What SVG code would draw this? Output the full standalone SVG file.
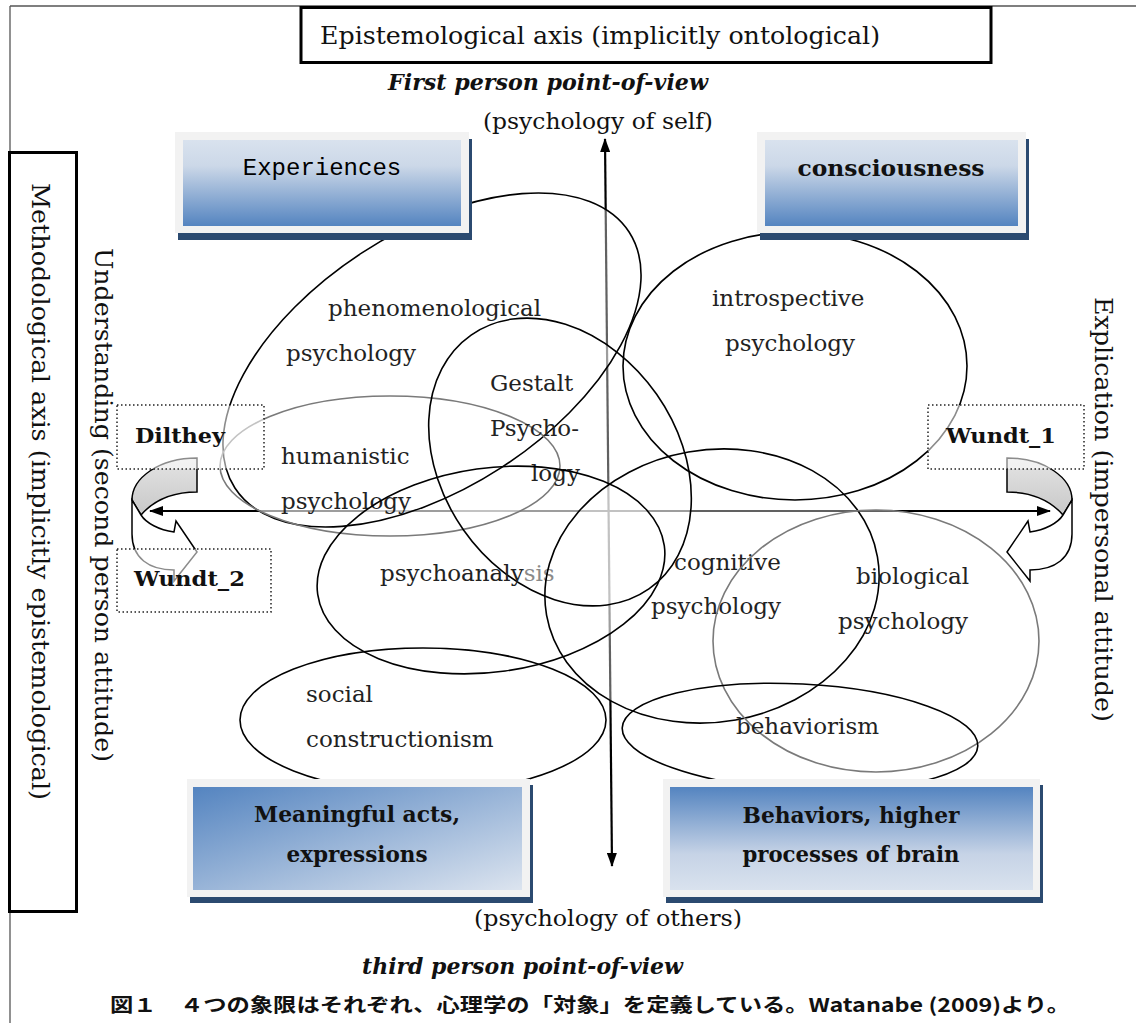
<svg xmlns="http://www.w3.org/2000/svg" width="1136" height="1023" viewBox="0 0 1136 1023">
<defs>
<style>
.serif{font-family:"DejaVu Serif","Liberation Serif",serif;fill:#111}
.lbl{font-family:"DejaVu Serif","Liberation Serif",serif;font-size:23px;fill:#222}
.bold{font-weight:bold}
.ell{fill:none;stroke:#000;stroke-width:1.6}
.ellg{fill:none;stroke:#7a7a7a;stroke-width:1.6}
.veil{fill:#fff;fill-opacity:0.38;stroke:none}
.dot{fill:#fff;fill-opacity:0.55;stroke:#222;stroke-width:1.5;stroke-dasharray:1.5 2.5}
.shadow{fill:#2b4a70}
.frame{fill:#f2f2f2}
.axis{stroke:#000;stroke-width:2.2;fill:none}
.arrowshape{stroke:#000;stroke-width:1.5;stroke-linejoin:miter}
</style>
<linearGradient id="gV" x1="0" y1="0" x2="0" y2="1">
<stop offset="0" stop-color="#d9e2ee"/><stop offset="0.3" stop-color="#ccd8e8"/><stop offset="1" stop-color="#5484c0"/>
</linearGradient>
<linearGradient id="gVr" x1="0" y1="0" x2="0" y2="1">
<stop offset="0" stop-color="#5484c0"/><stop offset="0.65" stop-color="#c6d3e6"/><stop offset="1" stop-color="#d9e2ee"/>
</linearGradient>
<linearGradient id="gD" x1="0" y1="0" x2="1" y2="1">
<stop offset="0" stop-color="#5484c0"/><stop offset="1" stop-color="#dce4ef"/>
</linearGradient>
<linearGradient id="gBand" x1="0" y1="0" x2="0" y2="1">
<stop offset="0" stop-color="#e4e4e4"/><stop offset="1" stop-color="#c8c8c8"/>
</linearGradient>
<marker id="ah" viewBox="0 0 14 10" refX="13" refY="5" markerWidth="14" markerHeight="10" markerUnits="userSpaceOnUse" orient="auto-start-reverse">
<path d="M0,0 L14,5 L0,10 z" fill="#000"/>
</marker>
<ellipse id="e-phen" cx="432" cy="360" rx="235" ry="128" transform="rotate(-33 432 360)"/>
<ellipse id="e-intro" cx="795" cy="366" rx="172" ry="134"/>
<ellipse id="e-social" cx="423" cy="720" rx="183" ry="72"/>
<ellipse id="e-hum" cx="390" cy="466" rx="170" ry="70"/>
<ellipse id="e-gest" cx="560" cy="462" rx="155" ry="118" transform="rotate(55 560 462)"/>
<ellipse id="e-psya" cx="491" cy="570" rx="175" ry="102" transform="rotate(-8 491 570)"/>
<ellipse id="e-cog" cx="712" cy="586" rx="168" ry="136" transform="rotate(-10 712 586)"/>
<ellipse id="e-bio" cx="876" cy="641" rx="163" ry="131"/>
<ellipse id="e-beh" cx="800" cy="737" rx="178" ry="53" transform="rotate(3 800 737)"/>
<g id="curvArrow">
<path class="arrowshape" fill="url(#gBand)" d="M1007,458 C1045,458 1072,478 1072,500 L1063,515 C1050,500 1030,492 1007,492 Z"/>
<path class="arrowshape" fill="#fff" d="M1007,552 L1028,521 L1030,532 C1045,530 1058,523 1063,515 L1072,500 L1072,534 C1072,558 1055,570 1030,570 L1030,581 Z"/>
</g>
</defs>

<rect width="1136" height="1023" fill="#fff"/>

<g id="page-frame" fill="none" stroke="#555" stroke-width="1.3">
<line x1="10" y1="6" x2="1136" y2="6"/>
<line x1="10" y1="6" x2="10" y2="1023"/>
</g>

<g id="connectors">
<line class="axis" x1="150" y1="511" x2="1050" y2="511" marker-start="url(#ah)" marker-end="url(#ah)"/>
<line class="axis" x1="605" y1="139" x2="612" y2="866" marker-start="url(#ah)" marker-end="url(#ah)"/>
</g>

<g id="ellipse-veils" class="veil">
<use href="#e-phen"/><use href="#e-intro"/><use href="#e-social"/><use href="#e-hum"/><use href="#e-gest"/>
<use href="#e-psya"/><use href="#e-cog"/><use href="#e-bio"/><use href="#e-beh"/>
</g>

<g id="node-phenomenological">
<use href="#e-phen" class="ell"/>
<text class="lbl" x="328" y="316">phenomenological</text>
<text class="lbl" x="286" y="361">psychology</text>
</g>
<g id="node-introspective">
<use href="#e-intro" class="ell"/>
<text class="lbl" x="712" y="306">introspective</text>
<text class="lbl" x="725" y="351">psychology</text>
</g>
<g id="node-social">
<use href="#e-social" class="ell"/>
<text class="lbl" x="306" y="702">social</text>
<text class="lbl" x="306" y="747">constructionism</text>
</g>
<g id="node-humanistic">
<use href="#e-hum" class="ellg"/>
<text class="lbl" x="281" y="464">humanistic</text>
<text class="lbl" x="281" y="509">psychology</text>
</g>
<g id="node-gestalt">
<use href="#e-gest" class="ell"/>
<text class="lbl" x="490" y="391">Gestalt</text>
<text class="lbl" x="490" y="436">Psycho-</text>
<text class="lbl" x="531" y="481">logy</text>
</g>
<g id="node-psychoanalysis">
<use href="#e-psya" class="ell"/>
<text class="lbl" x="380" y="581">psychoanaly<tspan fill="#8a8a8a">sis</tspan></text>
</g>
<g id="node-cognitive">
<use href="#e-cog" class="ell"/>
<text class="lbl" x="674" y="570">cognitive</text>
<text class="lbl" x="651" y="614">psychology</text>
</g>
<g id="node-biological">
<use href="#e-bio" class="ellg"/>
<text class="lbl" x="856" y="584">biological</text>
<text class="lbl" x="838" y="629">psychology</text>
</g>
<g id="node-behaviorism">
<use href="#e-beh" class="ell"/>
<text class="lbl" x="736" y="734">behaviorism</text>
</g>

<g id="node-experiences">
<rect class="shadow" x="178" y="139" width="294" height="101"/>
<rect class="frame" x="175" y="132" width="294" height="101"/>
<rect x="183" y="140" width="278" height="86" fill="url(#gV)"/>
<text x="322" y="175" text-anchor="middle" font-family="'Liberation Mono',monospace" font-size="24" fill="#000">Experiences</text>
</g>
<g id="node-consciousness">
<rect class="shadow" x="760" y="139" width="269" height="101"/>
<rect class="frame" x="757" y="132" width="269" height="101"/>
<rect x="765" y="140" width="253" height="86" fill="url(#gV)"/>
<text class="serif bold" x="891" y="176" text-anchor="middle" font-size="22" textLength="187" lengthAdjust="spacingAndGlyphs">consciousness</text>
</g>
<g id="node-meaningful">
<rect class="shadow" x="190" y="785" width="343" height="118"/>
<rect class="frame" x="187" y="779" width="343" height="118"/>
<rect x="193" y="787" width="329" height="103" fill="url(#gD)"/>
<text class="serif bold" x="357" y="822" text-anchor="middle" font-size="22" textLength="206" lengthAdjust="spacingAndGlyphs">Meaningful acts,</text>
<text class="serif bold" x="357" y="862" text-anchor="middle" font-size="22" textLength="141" lengthAdjust="spacingAndGlyphs">expressions</text>
</g>
<g id="node-behaviors">
<rect class="shadow" x="666" y="785" width="377" height="118"/>
<rect class="frame" x="663" y="779" width="377" height="118"/>
<rect x="670" y="787" width="363" height="103" fill="url(#gVr)"/>
<text class="serif bold" x="851" y="823" text-anchor="middle" font-size="22" textLength="217" lengthAdjust="spacingAndGlyphs">Behaviors, higher</text>
<text class="serif bold" x="851" y="862" text-anchor="middle" font-size="22" textLength="217" lengthAdjust="spacingAndGlyphs">processes of brain</text>
</g>

<g id="curved-arrow-right"><use href="#curvArrow"/></g>
<g id="curved-arrow-left"><use href="#curvArrow" transform="translate(1204,0) scale(-1,1)"/></g>

<g id="node-dilthey">
<rect class="dot" x="117" y="405" width="147" height="64"/>
<text class="serif bold" x="135" y="443" font-size="21" textLength="90" lengthAdjust="spacingAndGlyphs">Dilthey</text>
</g>
<g id="node-wundt2">
<rect class="dot" x="117" y="549" width="154" height="63"/>
<text class="serif bold" x="134" y="586" font-size="21" textLength="111" lengthAdjust="spacingAndGlyphs">Wundt_2</text>
</g>
<g id="node-wundt1">
<rect class="dot" x="928" y="405" width="156" height="64"/>
<text class="serif bold" x="946" y="443" font-size="21" textLength="110" lengthAdjust="spacingAndGlyphs">Wundt_1</text>
</g>

<g id="node-epistemological-axis">
<rect x="301" y="7.5" width="690" height="55" fill="#fff" stroke="#000" stroke-width="3"/>
<text class="serif" x="320" y="44" font-size="24" textLength="560" lengthAdjust="spacingAndGlyphs">Epistemological axis (implicitly ontological)</text>
</g>
<g id="node-methodological-axis">
<rect x="9.5" y="152.5" width="67" height="759" fill="#fff" stroke="#000" stroke-width="3"/>
<text class="serif" transform="translate(32,183) rotate(90)" font-size="24" textLength="617" lengthAdjust="spacingAndGlyphs">Methodological axis (implicitly epistemological)</text>
</g>

<g id="axis-labels">
<text class="serif" x="388" y="90" font-size="23" font-style="italic" font-weight="600" textLength="320" lengthAdjust="spacingAndGlyphs">First person point-of-view</text>
<text class="serif" x="483" y="129" font-size="23" textLength="230" lengthAdjust="spacingAndGlyphs">(psychology of self)</text>
<text class="serif" x="474" y="926" font-size="23" textLength="268" lengthAdjust="spacingAndGlyphs">(psychology of others)</text>
<text class="serif" x="362" y="974" font-size="23" font-style="italic" font-weight="600" textLength="321" lengthAdjust="spacingAndGlyphs">third person point-of-view</text>
<text class="serif" transform="translate(95,248) rotate(90)" font-size="24" textLength="514" lengthAdjust="spacingAndGlyphs">Understanding (second person attitude)</text>
<text class="serif" transform="translate(1095,297) rotate(90)" font-size="24" textLength="425" lengthAdjust="spacingAndGlyphs">Explication (impersonal attitude)</text>
</g>

<g id="caption">
<text x="110" y="1012" font-family="'Noto Sans CJK JP','Noto Sans CJK SC',sans-serif" font-size="19" font-weight="bold" fill="#111" textLength="960" lengthAdjust="spacingAndGlyphs">図１　４つの象限はそれぞれ、心理学の「対象」を定義している。Watanabe (2009)より。</text>
</g>
</svg>
